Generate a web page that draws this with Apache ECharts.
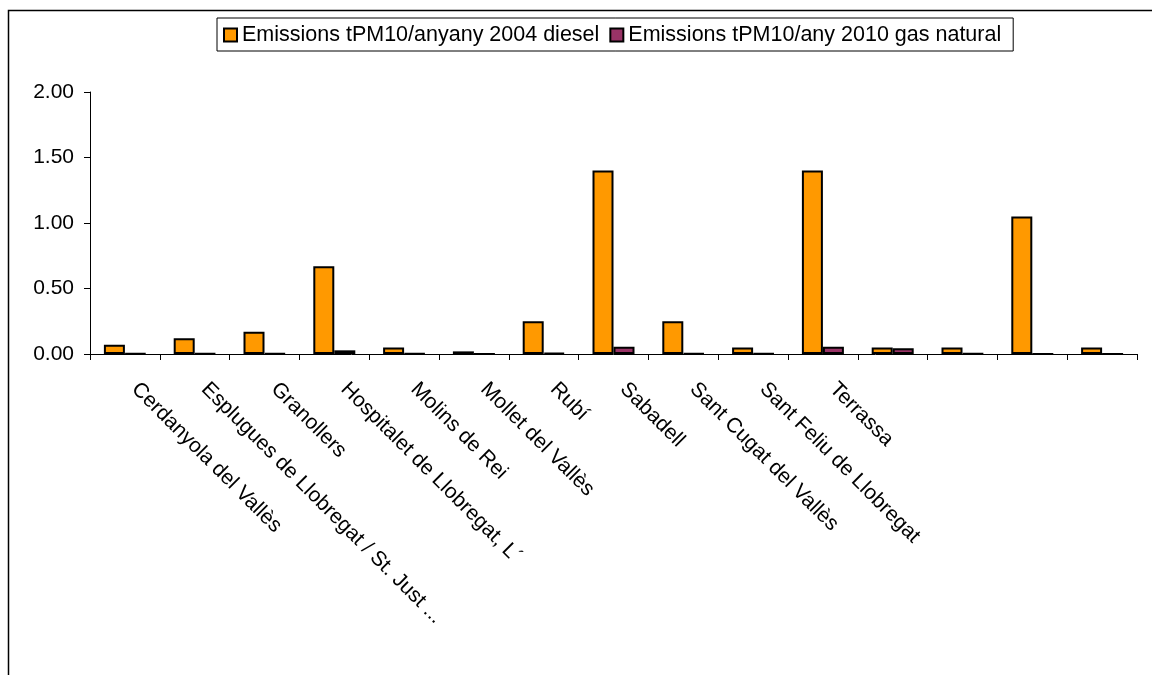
<!DOCTYPE html>
<html>
<head>
<meta charset="utf-8">
<script src="https://cdn.jsdelivr.net/npm/echarts@6/dist/echarts.min.js"></script>
<style>
html,body{margin:0;padding:0;background:#fff;}
#chart{width:1152px;height:675px;}
</style>
</head>
<body>
<div id="chart"></div>
<script>
var categories = [
  'Cerdanyola del Vallès',
  'Esplugues de Llobregat / St. Just ...',
  'Granollers',
  'Hospitalet de Llobregat, L´',
  'Molins de Rei',
  'Mollet del Vallès',
  'Rubí',
  'Sabadell',
  'Sant Cugat del Vallès',
  'Sant Feliu de Llobregat',
  'Terrassa',
  '', '', '', ''
];
var seriesNames = ['Emissions tPM10/anyany 2004 diesel', 'Emissions tPM10/any 2010 gas natural'];
var diesel2004 = [0.07, 0.12, 0.17, 0.67, 0.05, 0.02, 0.25, 1.40, 0.25, 0.05, 1.40, 0.05, 0.05, 1.05, 0.05];
var gas2010 = [0.003, 0.004, 0.005, 0.028, 0.003, 0, 0.008, 0.056, 0.005, 0.002, 0.055, 0.044, 0.002, 0, 0];
var yTicks = [0, 0.5, 1.0, 1.5, 2.0];

var chart = echarts.init(document.getElementById('chart'), null, {renderer: 'canvas'});
var font = 'Liberation Sans, Arial, sans-serif';
chart.setOption({
  animation: false,
  backgroundColor: '#ffffff',
  graphic: [{
    type: 'rect',
    shape: {x: 8.5, y: 10.5, width: 1200, height: 700},
    style: {fill: 'none', stroke: '#000', lineWidth: 1.5},
    silent: true,
    z: -1
  }],
  legend: {
    left: 217,
    top: 18,
    padding: [6, 12, 5, 6],
    itemGap: 10,
    itemWidth: 13,
    itemHeight: 13,
    borderColor: '#000',
    borderWidth: 1,
    icon: 'rect',
    textStyle: {fontFamily: font, fontSize: 21.5, color: '#000'},
    itemStyle: {borderColor: '#000', borderWidth: 2},
    data: seriesNames
  },
  grid: {left: 90, right: 15, top: 92, bottom: 321, containLabel: false},
  xAxis: {
    type: 'category',
    data: categories,
    axisLine: {lineStyle: {color: '#000', width: 1}},
    axisTick: {show: true, alignWithLabel: false, length: 6, lineStyle: {color: '#000'}},
    axisLabel: {interval: 0, rotate: -45, margin: 22, padding: [0, 0, 0, 14], fontFamily: font, fontSize: 21, color: '#000'},
    splitLine: {show: false}
  },
  yAxis: {
    type: 'value',
    min: yTicks[0],
    max: yTicks[yTicks.length - 1],
    interval: 0.5,
    axisLine: {show: true, lineStyle: {color: '#000', width: 1}},
    axisTick: {show: true, length: 6, lineStyle: {color: '#000'}},
    axisLabel: {fontFamily: font, fontSize: 21, color: '#000', margin: 16,
      formatter: function (v) { return v.toFixed(2); }},
    splitLine: {show: false}
  },
  series: [{
    name: seriesNames[0],
    type: 'bar',
    data: diesel2004,
    barWidth: 21,
    barGap: '0%',
    itemStyle: {color: '#FF9900', borderColor: '#000', borderWidth: 2}
  }, {
    name: seriesNames[1],
    type: 'bar',
    data: gas2010,
    barWidth: 21,
    barGap: '0%',
    itemStyle: {color: '#993366', borderColor: '#000', borderWidth: 2}
  }]
});
</script>
</body>
</html>
